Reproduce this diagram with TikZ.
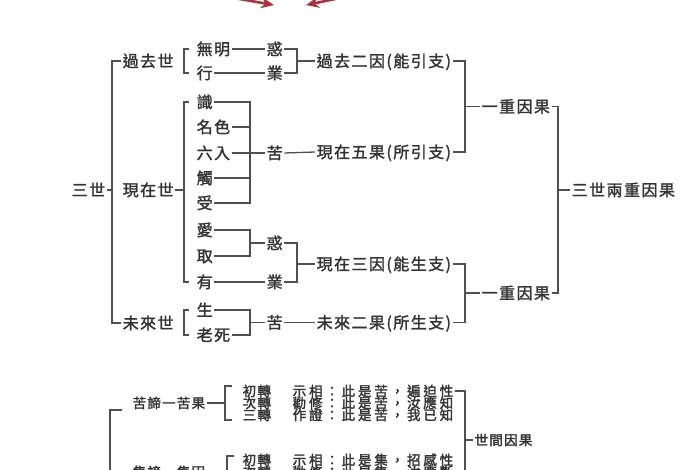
\documentclass[tikz,border=0pt]{standalone}
\usepackage{fontspec}
\setmainfont{Noto Sans CJK TC}
\newfontfamily\topf[LetterSpace=9,FakeBold=1.6]{Noto Sans CJK TC}
\newfontfamily\botf[LetterSpace=21,FakeBold=2]{Noto Sans CJK TC}
\newfontfamily\zhf[LetterSpace=9,FakeBold=2]{Noto Sans CJK TC}
\usetikzlibrary{arrows.meta}
\definecolor{txt}{HTML}{333333}
\definecolor{lnc}{HTML}{505050}
\definecolor{arr}{HTML}{A8343E}
\begin{document}
\begin{tikzpicture}[x=1pt,y=-1pt,
  lbl/.style={anchor=west,inner sep=1.5pt,text=txt,font=\topf\fontsize{16}{18}\selectfont,text height=14pt,text depth=2pt},
  sml/.style={anchor=west,inner sep=1.5pt,text=txt,font=\botf\fontsize{13.5}{14}\selectfont,text height=11.8pt,text depth=1.6pt},
  zhs/.style={anchor=west,inner sep=1.5pt,text=txt,font=\zhf\fontsize{13.5}{14}\selectfont,text height=11.8pt,text depth=1.6pt},
  ln/.style={draw=lnc,line width=1.3pt,line join=miter},
  redarr/.style={draw=arr,line width=2.6pt,-{Stealth[length=13pt,width=11pt]}}]
\useasboundingbox (0,0) rectangle (700,470);
\clip (0,0) rectangle (700,470);
\fill[white] (0,0) rectangle (700,470);
% column x coordinates
\coordinate (xa) at (112,0);
\coordinate (xb) at (184,0);
\coordinate (xb2) at (189,0);
\coordinate (xc) at (250,0);
\coordinate (xd) at (297,0);
\coordinate (xe) at (465,0);
\coordinate (xf) at (558,0);
% red arrows at the top
\coordinate (ra1) at (228,-3);
\coordinate (ra2) at (274,5);
\coordinate (rb1) at (345,-3);
\coordinate (rb2) at (306,5);
\draw[redarr] (ra1) -- (ra2);
\draw[redarr] (rb1) -- (rb2);
% level 1
\node[lbl] (sanshi) at (70,190) {三世};
\node[lbl] (gqs) at (121,61) {過去世};
\node[lbl] (xzs) at (121,190) {現在世};
\node[lbl] (wls) at (121,323) {未來世};
% items
\node[lbl] (wuming) at (195,49) {無明};
\node[lbl] (xing) at (195,73) {行};
\node[lbl] (shi) at (195,102) {識};
\node[lbl] (mingse) at (195,127) {名色};
\node[lbl] (liuru) at (195,153) {六入};
\node[lbl] (chu) at (195,178) {觸};
\node[lbl] (shou) at (195,203) {受};
\node[lbl] (ai) at (195,230) {愛};
\node[lbl] (qu) at (195,256) {取};
\node[lbl] (you) at (195,282) {有};
\node[lbl] (sheng) at (195,310) {生};
\node[lbl] (laosi) at (195,335) {老死};
\node[lbl] (huo1) at (265,49) {惑};
\node[lbl] (ye1) at (265,73) {業};
\node[lbl] (ku1) at (265,153) {苦};
\node[lbl] (huo2) at (265,243) {惑};
\node[lbl] (ye2) at (265,282) {業};
\node[lbl] (ku2) at (265,322.5) {苦};
\node[lbl] (gqey) at (315,61) {過去二因(能引支)};
\node[lbl] (xzwg) at (315,152) {現在五果(所引支)};
\node[lbl] (xzsy) at (315,264) {現在三因(能生支)};
\node[lbl] (wleg) at (315,322.5) {未來二果(所生支)};
\node[lbl] (yz1) at (480,106.5) {一重因果};
\node[lbl] (yz2) at (480,293) {一重因果};
\node[lbl] (sslz) at (570,190) {三世兩重因果};
% 三世 bracket
\draw[ln] (gqs.west) -- (xa |- gqs.west) -- (xa |- wls.west) -- (wls.west);
\draw[ln] (sanshi.east) -- (xa |- sanshi.east);
% left brackets
\draw[ln] (xb2 |- wuming) -- (xb |- wuming) -- (xb |- xing) -- (xb2 |- xing);
\draw[ln] (xb2 |- shi) -- (xb |- shi) -- (xb |- you) -- (xb2 |- you);
\draw[ln] (xzs.east) -- (xb |- xzs);
\draw[ln] (xb2 |- sheng) -- (xb |- sheng) -- (xb |- laosi) -- (xb2 |- laosi);
% past
\draw[ln] (wuming.east) -- (huo1.west);
\draw[ln] (xing.east) -- (ye1.west);
\draw[ln] (huo1.east) -- (xd |- huo1) -- (xd |- ye1) -- (ye1.east);
\draw[ln] (xd |- gqey) -- (gqey.west);
% present results
\draw[ln] (shi.east) -- (xc |- shi) -- (xc |- shou) -- (shou.east);
\draw[ln] (mingse.east) -- (xc |- mingse);
\draw[ln] (chu.east) -- (xc |- chu);
\draw[ln] (liuru.east) -- (ku1.west);
\draw[ln] (ku1.east) -- (xzwg.west);
% present causes
\draw[ln] (ai.east) -- (xc |- ai) -- (xc |- qu) -- (qu.east);
\draw[ln] (xc |- huo2) -- (huo2.west);
\draw[ln] (you.east) -- (ye2.west);
\draw[ln] (huo2.east) -- (xd |- huo2) -- (xd |- ye2) -- (ye2.east);
\draw[ln] (xd |- xzsy) -- (xzsy.west);
% future
\draw[ln] (sheng.east) -- (xc |- sheng) -- (xc |- laosi) -- (laosi.east);
\draw[ln] (xc |- ku2) -- (ku2.west);
\draw[ln] (ku2.east) -- (wleg.west);
% right side
\draw[ln] (gqey.east) -- (xe |- gqey) -- (xe |- xzwg) -- (xzwg.east);
\draw[ln] (xe |- yz1) -- (yz1.west);
\draw[ln] (xzsy.east) -- (xe |- xzsy) -- (xe |- wleg) -- (wleg.east);
\draw[ln] (xe |- yz2) -- (yz2.west);
\draw[ln] (yz1.east) -- (xf |- yz1) -- (xf |- yz2) -- (yz2.east);
\draw[ln] (xf |- sslz) -- (sslz.west);
% ---------- bottom part ----------
\node[zhs] (ktkg) at (131,403) {苦諦一苦果};
\node[zhs] (c1) at (241,391) {初轉};
\node[zhs] (c2) at (241,403) {次轉};
\node[zhs] (c3) at (241,415) {三轉};
\node[sml] (p1) at (291,391) {示相：此是苦，遍迫性};
\node[sml] (p2) at (291,403) {勸修：此是苦，汝應知};
\node[sml] (p3) at (291,415) {作證：此是苦，我已知};
\node[zhs] (sjyg) at (473,440) {世間因果};
\node[zhs] (jdjy) at (131,472) {集諦一集因};
\node[zhs] (d1) at (241,460) {初轉};
\node[zhs] (d2) at (241,472) {次轉};
\node[sml] (q1) at (291,460) {示相：此是集，招感性};
\node[sml] (q2) at (291,472) {勸修：此是集，汝應斷};
% brackets bottom
\coordinate (bl1) at (110,410);
\coordinate (bl2) at (122,410);
\coordinate (bl3) at (110,480);
\draw[ln] (bl2) -- (bl1) -- (bl3);
\coordinate (g1a) at (232,386);
\coordinate (g1b) at (225,386);
\coordinate (g1c) at (225,420);
\coordinate (g1d) at (232,420);
\draw[ln] (g1a) -- (g1b) -- (g1c) -- (g1d);
\draw[ln] (ktkg.east) -- (g1b |- ktkg);
\coordinate (g2a) at (234,456);
\coordinate (g2b) at (227,456);
\coordinate (g2c) at (227,490);
\draw[ln] (g2a) -- (g2b) -- (g2c);
\draw[ln] (jdjy.east) -- (g2b |- jdjy);
\coordinate (ebot) at (465,480);
\draw[ln] (p1.east) -- (xe |- p1) -- (ebot);
\draw[ln] (xe |- sjyg) -- (sjyg.west);
\end{tikzpicture}
\end{document}
